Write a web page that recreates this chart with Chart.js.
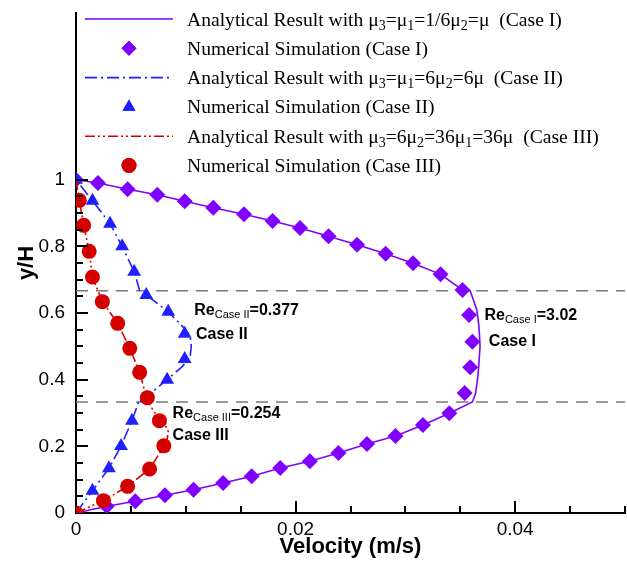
<!DOCTYPE html>
<html lang="en">
<head>
<meta charset="UTF-8">
<title>Velocity profiles</title>
<style>
  body { margin: 0; background: #fff; }
  #wrap { width: 627px; height: 562px; }
</style>
<script src="https://cdn.jsdelivr.net/npm/chart.js"></script>
</head>
<body>
<div id="wrap"><canvas id="chart" width="627" height="562"></canvas></div>
<script>
// values: velocity (m/s) vs y/H

// Case I analytical (mu3 = mu1 = 1/6 mu2 = mu)
const case1LineX = [0, 0.0028, 0.0054, 0.0081, 0.0107, 0.0134, 0.016, 0.0186, 0.0213, 0.0239, 0.0265, 0.0291, 0.0316, 0.034, 0.0361,
  0.0364, 0.0366, 0.0367, 0.0368, 0.0367, 0.0365, 0.0359,
  0.0352, 0.0332, 0.0307, 0.0282, 0.0256, 0.023, 0.0204, 0.0179, 0.0153, 0.0125, 0.0099, 0.0074, 0.0047, 0.002, 0];
const case1LineY = [0, 0.02, 0.035, 0.053, 0.07, 0.09, 0.11, 0.135, 0.155, 0.18, 0.207, 0.231, 0.264, 0.299, 0.333,
  0.36, 0.41, 0.45, 0.5, 0.56, 0.61, 0.667,
  0.669, 0.716, 0.749, 0.778, 0.805, 0.83, 0.855, 0.876, 0.896, 0.916, 0.935, 0.955, 0.971, 0.99, 1];

// Case I numerical
const case1SimX = [0, 0.0028, 0.0054, 0.0081, 0.0107, 0.0134, 0.016, 0.0186, 0.0213, 0.0239, 0.0265, 0.0291, 0.0316, 0.034,
  0.0354, 0.0359, 0.0361, 0.0358, 0.0352,
  0.0332, 0.0307, 0.0282, 0.0256, 0.023, 0.0204, 0.0179, 0.0153, 0.0125, 0.0099, 0.0074, 0.0047, 0.002, 0];
const case1SimY = [0, 0.02, 0.035, 0.053, 0.07, 0.09, 0.11, 0.135, 0.155, 0.18, 0.207, 0.231, 0.264, 0.299,
  0.36, 0.437, 0.514, 0.594, 0.669,
  0.716, 0.749, 0.778, 0.805, 0.83, 0.855, 0.876, 0.896, 0.916, 0.935, 0.955, 0.971, 0.99, 1];

// Case II analytical (mu3 = mu1 = 6 mu2 = 6 mu)
const case2LineX = [0, 0.0015, 0.003, 0.0041, 0.0051, 0.0057, 0.0064, 0.0083, 0.0097, 0.0104, 0.0105, 0.0104, 0.0097, 0.0084, 0.0064, 0.0058, 0.0053, 0.0042, 0.0031, 0.0015, 0];
const case2LineY = [0, 0.067, 0.134, 0.201, 0.277, 0.333, 0.348, 0.40, 0.44, 0.47, 0.5, 0.53, 0.56, 0.604, 0.654, 0.667, 0.724, 0.80, 0.868, 0.937, 1];

// Case II numerical
const case2SimX = [0, 0.0015, 0.003, 0.0041, 0.0051, 0.0064, 0.0083, 0.0099, 0.0099, 0.0084, 0.0064, 0.0053, 0.0042, 0.0031, 0.0015, 0];
const case2SimY = [0, 0.067, 0.134, 0.201, 0.277, 0.346, 0.40, 0.462, 0.538, 0.604, 0.654, 0.724, 0.80, 0.868, 0.937, 1];

// Case III analytical (mu3 = 6 mu2 = 36 mu1 = 36 mu)
const case3LineX = [0, 0.0025, 0.0047, 0.0067, 0.008, 0.0083, 0.0084, 0.0081, 0.0076, 0.0065, 0.0058, 0.0049, 0.0038, 0.0024, 0.0015, 0.0012, 0.0007, 0.0003, 0];
const case3LineY = [0, 0.037, 0.08, 0.132, 0.20, 0.22, 0.245, 0.265, 0.28, 0.335, 0.422, 0.494, 0.569, 0.634, 0.708, 0.785, 0.863, 0.938, 1];

// Case III numerical
const case3SimX = [0, 0.0025, 0.0047, 0.0067, 0.008, 0.0076, 0.0065, 0.0058, 0.0049, 0.0038, 0.0024, 0.0015, 0.0012, 0.0007, 0.0003];
const case3SimY = [0, 0.037, 0.08, 0.132, 0.2015, 0.277, 0.346, 0.422, 0.494, 0.569, 0.634, 0.708, 0.785, 0.863, 0.938];

// layer interfaces
const interfaceY = [1 / 3, 2 / 3];

const xMajorTicks = [0, 0.02, 0.04];
const yMajorTicks = [0, 0.2, 0.4, 0.6, 0.8, 1];

const purple = '#8000ff';
const blue = '#2020ff';
const red = '#d40000';

function pts(xs, ys) {
  return xs.map((x, i) => ({ x: x, y: ys[i] }));
}

function fmt(v) {
  return String(+v.toFixed(3));
}

function isMajor(v, list) {
  return list.some(m => Math.abs(m - v) < 1e-9);
}

const legendRows = [
  { text: 'Analytical Result with μ_3=μ_1=1/6μ_2=μ  (Case I)', kind: 'line', color: purple, dash: [] },
  { text: 'Numerical Simulation (Case I)', kind: 'point', color: purple, style: 'rectRot', radius: 7.5 },
  { text: 'Analytical Result with μ_3=μ_1=6μ_2=6μ  (Case II)', kind: 'line', color: blue, dash: [12, 4, 2, 4] },
  { text: 'Numerical Simulation (Case II)', kind: 'point', color: blue, style: 'triangle', radius: 7.5 },
  { text: 'Analytical Result with μ_3=6μ_2=36μ_1=36μ  (Case III)', kind: 'line', color: red, dash: [10, 3, 2, 3, 2, 3] },
  { text: 'Numerical Simulation (Case III)', kind: 'point', color: red, style: 'circle', radius: 7.5 }
];

const notes = [
  { text: 'Re_{Case II}=0.377', x: 0.01077, y: 0.594 },
  { text: 'Case II', x: 0.01093, y: 0.522 },
  { text: 'Re_{Case III}=0.254', x: 0.0088, y: 0.2844 },
  { text: 'Case III', x: 0.0088, y: 0.2195 },
  { text: 'Re_{Case I}=3.02', x: 0.0372, y: 0.578 },
  { text: 'Case I', x: 0.0376, y: 0.5018 }
];

// draws text where "_x" or "_{...}" is a subscript
function drawRich(ctx, str, x, y, font, subFont, drop) {
  const parts = str.split(/(_\{[^}]*\}|_.)/).filter(s => s.length);
  ctx.textBaseline = 'alphabetic';
  ctx.textAlign = 'left';
  parts.forEach(p => {
    if (p[0] === '_') {
      const t = p[1] === '{' ? p.slice(2, -1) : p.slice(1);
      ctx.font = subFont;
      ctx.fillText(t, x, y + drop);
      x += ctx.measureText(t).width;
    } else {
      ctx.font = font;
      ctx.fillText(p, x, y);
      x += ctx.measureText(p).width;
    }
  });
}

const extras = {
  id: 'extras',
  afterDraw(chart) {
    const ctx = chart.ctx;
    const xs = chart.scales.x, ys = chart.scales.y;
    const area = chart.chartArea;
    ctx.save();

    // inward ticks
    ctx.strokeStyle = '#000';
    ctx.lineWidth = 2;
    ctx.beginPath();
    xs.ticks.forEach(t => {
      if (t.value === 0) return;
      const px = Math.round(xs.getPixelForValue(t.value));
      const len = isMajor(t.value, xMajorTicks) ? 12 : 7;
      ctx.moveTo(px, area.bottom);
      ctx.lineTo(px, area.bottom - len);
    });
    ys.ticks.forEach(t => {
      if (t.value > 1.0001 || t.value === 0) return;
      const py = Math.round(ys.getPixelForValue(t.value));
      const len = isMajor(t.value, yMajorTicks) ? 12 : 7;
      ctx.moveTo(area.left, py);
      ctx.lineTo(area.left + len, py);
    });
    ctx.stroke();

    // legend inside the frame
    legendRows.forEach((r, i) => {
      const cy = area.top + 6 + i * 29.3;
      const x0 = area.left + 9, x1 = area.left + 97;
      ctx.strokeStyle = r.color;
      ctx.fillStyle = r.color;
      if (r.kind === 'line') {
        ctx.lineWidth = 1.6;
        ctx.setLineDash(r.dash);
        ctx.beginPath();
        ctx.moveTo(x0, cy);
        ctx.lineTo(x1, cy);
        ctx.stroke();
        ctx.setLineDash([]);
      } else {
        Chart.helpers.drawPoint(ctx, { pointStyle: r.style, radius: r.radius, borderWidth: 0 }, (x0 + x1) / 2, cy);
        ctx.fill();
      }
      ctx.fillStyle = '#000';
      drawRich(ctx, r.text, area.left + 111, cy + 6.5,
        '19.6px "Liberation Serif", "Times New Roman", serif',
        '14px "Liberation Serif", "Times New Roman", serif', 4);
    });

    // Reynolds number labels
    ctx.fillStyle = '#000';
    notes.forEach(n => {
      drawRich(ctx, n.text, xs.getPixelForValue(n.x), ys.getPixelForValue(n.y),
        'bold 16px "Liberation Sans", Arial, sans-serif',
        '11px "Liberation Sans", Arial, sans-serif', 3);
    });
    ctx.restore();
  }
};

const lineDs = (label, xs, ys, color, dash, order) => ({
  label: label, data: pts(xs, ys), showLine: true, borderColor: color, borderWidth: 1.6,
  borderDash: dash, pointRadius: 0, tension: 0, fill: false, order: order
});
const simDs = (label, xs, ys, color, style, radius, order) => ({
  label: label, data: pts(xs, ys), showLine: false, pointStyle: style, pointRadius: radius,
  backgroundColor: color, borderColor: color, borderWidth: 0, order: order
});

const datasets = [
  lineDs('Case I analytical', case1LineX, case1LineY, purple, [], 7),
  simDs('Case I numerical', case1SimX, case1SimY, purple, 'rectRot', 8, 6),
  lineDs('Case II analytical', case2LineX, case2LineY, blue, [12, 4, 2, 4], 5),
  simDs('Case II numerical', case2SimX, case2SimY, blue, 'triangle', 8, 4),
  lineDs('Case III analytical', case3LineX, case3LineY, red, [10, 3, 2, 3, 2, 3], 3),
  simDs('Case III numerical', case3SimX, case3SimY, red, 'circle', 7.5, 2)
];
interfaceY.forEach(v => {
  datasets.push({
    label: 'interface', data: [{ x: 0, y: v }, { x: 0.05, y: v }], showLine: true,
    borderColor: '#777', borderWidth: 1.5, borderDash: [12, 8], pointRadius: 0, order: 9
  });
});

const sans = '"Liberation Sans", Arial, sans-serif';

new Chart(document.getElementById('chart'), {
  type: 'scatter',
  data: { datasets: datasets },
  options: {
    responsive: false,
    animation: false,
    layout: { autoPadding: false, padding: { top: 13, right: 2, left: 0, bottom: 0 } },
    plugins: { legend: { display: false }, tooltip: { enabled: false } },
    scales: {
      x: {
        type: 'linear', min: 0, max: 0.05,
        ticks: {
          stepSize: 0.005, autoSkip: false, maxRotation: 0, padding: 5, color: '#000',
          font: { family: sans, size: 19 },
          callback: v => isMajor(v, xMajorTicks) ? fmt(v) : ''
        },
        grid: { drawOnChartArea: false, drawTicks: false },
        border: { color: '#000', width: 2 },
        title: {
          display: true, text: 'Velocity (m/s)', color: '#000',
          font: { family: sans, size: 22, weight: 'bold' }, padding: { top: 0, bottom: 2 }
        },
        afterFit: s => { s.height = 49; s.paddingLeft = 0; s.paddingRight = 0; }
      },
      y: {
        type: 'linear', min: 0, max: 1.5,
        ticks: {
          stepSize: 0.05, autoSkip: false, padding: 11, color: '#000',
          font: { family: sans, size: 19 },
          callback: v => isMajor(v, yMajorTicks) ? fmt(v) : ''
        },
        grid: { drawOnChartArea: false, drawTicks: false },
        border: { color: '#000', width: 2 },
        title: {
          display: true, text: 'y/H', color: '#000',
          font: { family: sans, size: 22, weight: 'bold' }, padding: { top: 14, bottom: 0 }
        },
        afterFit: s => { s.width = 76; s.paddingTop = 0; s.paddingBottom = 0; }
      }
    }
  },
  plugins: [extras]
});
</script>
</body>
</html>
